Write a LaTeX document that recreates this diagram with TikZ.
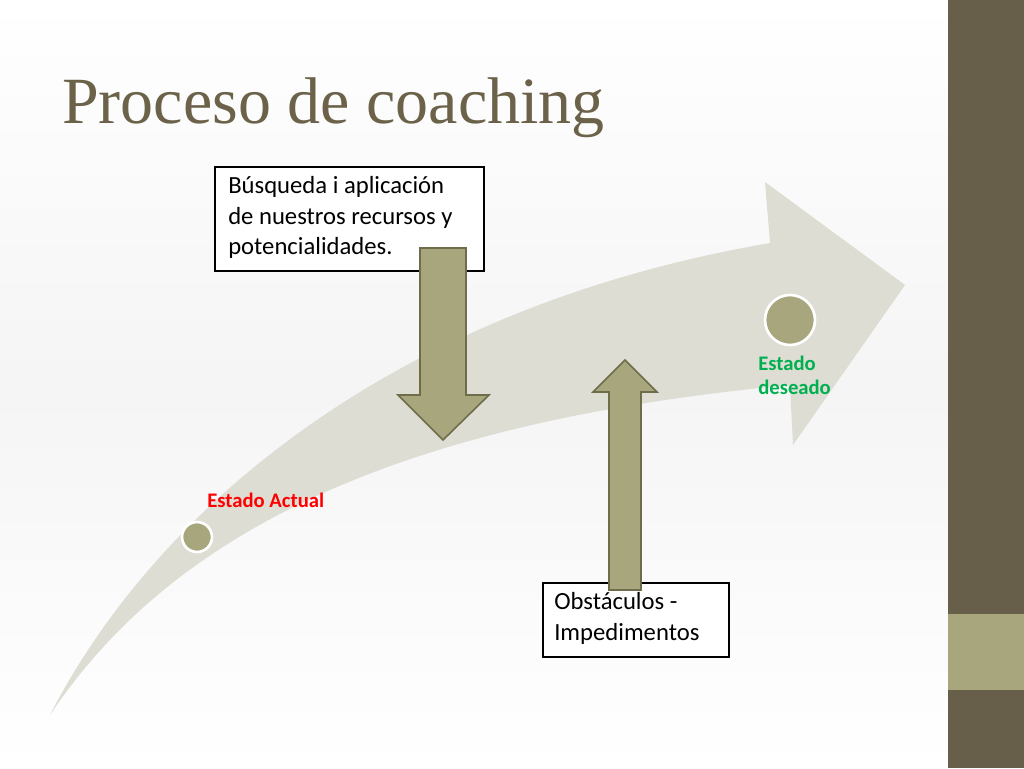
\documentclass[tikz,border=0pt]{standalone}
\usepackage{fontspec}
\setmainfont{Liberation Serif}
\newfontfamily\calfont{Carlito}
\definecolor{bar}{HTML}{675F49}
\definecolor{olive}{HTML}{A8A67C}
\definecolor{oliveb}{HTML}{6E6C4A}
\definecolor{swoosh}{HTML}{DEDDD4}
\definecolor{titlec}{HTML}{6B6249}
\definecolor{grn}{HTML}{00B050}
\begin{document}
\begin{tikzpicture}[x=0.75pt,y=-0.75pt,
  boxn/.style={draw=black,line width=1.5pt,fill=white,align=left,font=\calfont\fontsize{18.5}{23}\selectfont,inner sep=0pt},
  blk/.style={fill=olive,draw=oliveb,line width=1.2pt},
  dot/.style={circle,fill=olive,draw=white,line width=2pt}]
\useasboundingbox (0,0) rectangle (1024,768);
\shade[top color=white,bottom color=white,middle color=black!4] (0,0) rectangle (948,768);
\fill[bar] (948,0) rectangle (1024,768);
\fill[olive] (948,614) rectangle (1024,690);
\node[anchor=base west,text=titlec,font=\fontsize{49.5}{52}\selectfont,inner sep=0pt] (title) at (62,123) {Proceso de coaching};
% swoosh
\fill[swoosh] (50,715) .. controls (150,520) and (380,310) .. (770,243)
  -- (765,182) -- (905,285) -- (793,445) -- (790,385)
  .. controls (420,420) and (180,520) .. (50,715) -- cycle;
\node[dot,minimum size=30pt*0.75] (actual) at (197,537) {};
\node[dot,minimum size=50pt*0.75] (deseado) at (790,320) {};
\node[anchor=west,text=red,font=\calfont\bfseries\fontsize{15.5}{17}\selectfont,inner sep=0pt] (la) at (207,500) {Estado Actual};
\node[anchor=north west,text=grn,align=left,font=\calfont\bfseries\fontsize{15.5}{18}\selectfont,inner sep=0pt] (ld) at (758,356) {Estado\\deseado};
% boxes
\draw[line width=1.5pt,fill=white] (215,167) rectangle (484,271);
\node[anchor=north west,align=left,font=\calfont\fontsize{18.5}{23}\selectfont,inner sep=0pt] (b1) at (228,176) {Búsqueda i aplicación\\de nuestros recursos y\\potencialidades.};
\draw[line width=1.5pt,fill=white] (543,583) rectangle (729,657);
\node[anchor=north west,align=left,font=\calfont\fontsize{18.5}{23}\selectfont,inner sep=0pt] (b2) at (554,592) {Obstáculos -\\Impedimentos};
% arrows
\draw[blk] (420,248) -- (466,248) -- (466,395) -- (489,395) -- (443,440) -- (398,395) -- (420,395) -- cycle;
\draw[blk] (609,590) -- (641,590) -- (641,392) -- (657,392) -- (625,360) -- (593,392) -- (609,392) -- cycle;
\end{tikzpicture}
\end{document}
